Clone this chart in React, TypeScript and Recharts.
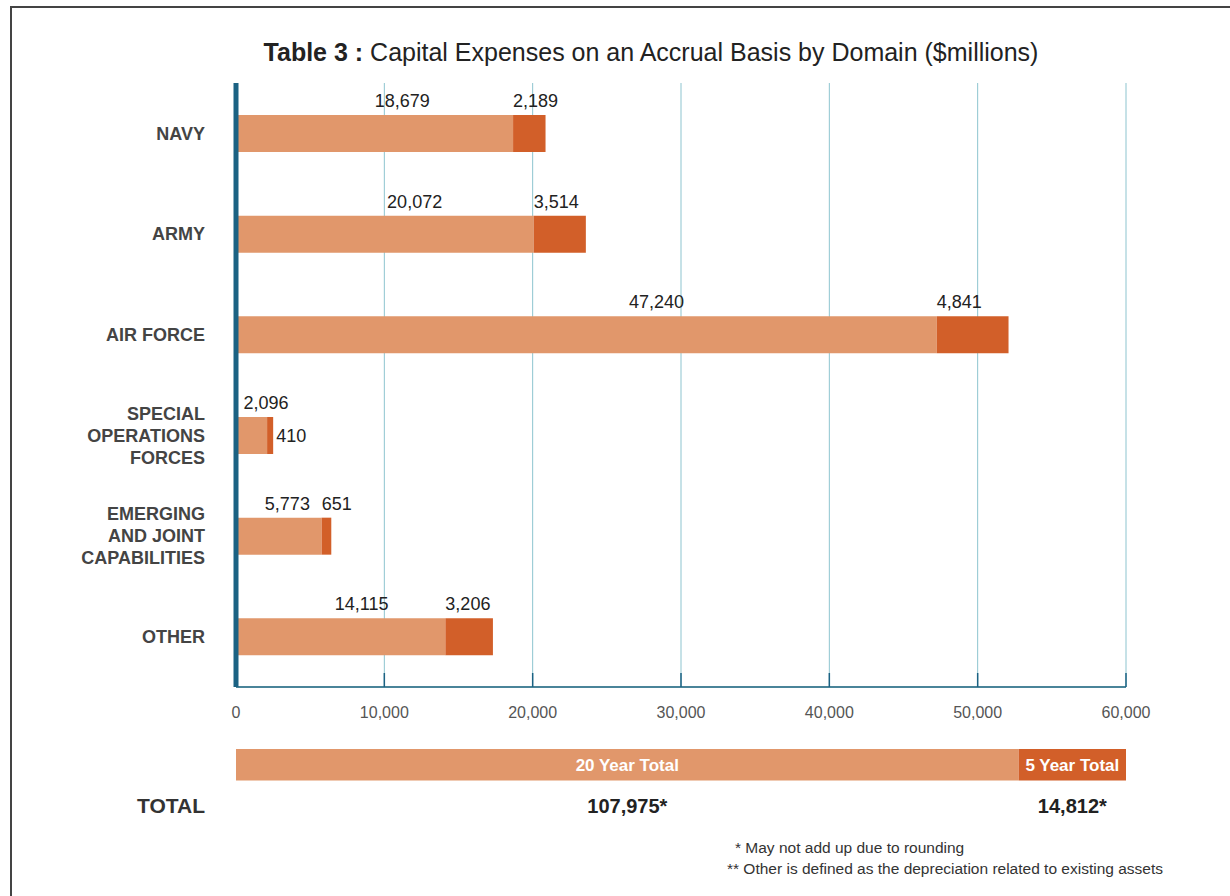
import { BarChart, Bar, XAxis, YAxis, CartesianGrid, LabelList } from "recharts";

const domains = ["NAVY", "ARMY", "AIR FORCE", "SPECIAL\nOPERATIONS\nFORCES", "EMERGING\nAND JOINT\nCAPABILITIES", "OTHER"];
const twentyYear = [18679, 20072, 47240, 2096, 5773, 14115];
const fiveYear = [2189, 3514, 4841, 410, 651, 3206];
const xTicks = [0, 10000, 20000, 30000, 40000, 50000, 60000];
const totalTwenty = 107975;
const totalFive = 14812;

const LIGHT = "#E1976B";
const DARK = "#D25F29";
const TEAL = "#1B6283";
const FONT = "'Liberation Sans', Arial, Helvetica, sans-serif";
const NARROW = "'Liberation Sans Narrow', 'Liberation Sans', Arial, sans-serif";

const fmt = (v: number) => v.toLocaleString("en-US");

const chartData = domains.map((d, i) => ({ name: d, twenty: twentyYear[i], five: fiveYear[i] }));
const totalData = [{ name: "TOTAL", twenty: totalTwenty, five: totalFive }];

const DomainTick = (props: any) => {
  const { x, y, payload } = props;
  const lines = String(payload.value).split("\n");
  const start = -((lines.length - 1) * 22) / 2;
  return (
    <text x={x - 23} y={y} textAnchor="end" fontFamily={FONT} fontSize={18} fontWeight="bold" fill="#444">
      {lines.map((l, i) => (
        <tspan key={i} x={x - 23} y={y + start + i * 22} dy="0.36em">
          {l}
        </tspan>
      ))}
    </text>
  );
};

const ValueTick = (props: any) => {
  const { x, y, payload } = props;
  return (
    <g>
      {payload.value > 0 && <line x1={x} x2={x} y1={y - 14} y2={y} stroke={TEAL} strokeWidth={1.5} />}
      <text x={x} y={y + 25} textAnchor="middle" dy="0.36em" fontFamily={FONT} fontSize={16} fill="#555">
        {fmt(payload.value)}
      </text>
    </g>
  );
};

const TwentyLabel = (props: any) => {
  const { x, y, width, value } = props;
  const cx = Math.max(x + width * 0.6, x + 30);
  return (
    <text x={cx} y={y - 8} textAnchor="middle" fontFamily={FONT} fontSize={18} fill="#222">
      {fmt(value)}
    </text>
  );
};

const FiveLabel = (props: any) => {
  const { x, y, width, height, value, index } = props;
  if (twentyYear[index] < 3000) {
    return (
      <text x={x + width + 3} y={y + height / 2} dy="0.36em" textAnchor="start" fontFamily={FONT} fontSize={18} fill="#222">
        {fmt(value)}
      </text>
    );
  }
  return (
    <text x={x} y={y - 8} textAnchor="start" fontFamily={FONT} fontSize={18} fill="#222">
      {fmt(value)}
    </text>
  );
};

const TotalInside = (text: string) => (props: any) => {
  const { x, y, width, height } = props;
  return (
    <text x={x + width / 2} y={y + height / 2} dy="0.36em" textAnchor="middle" fontFamily={NARROW} fontSize={17} fontWeight="bold" fill="#fff">
      {text}
    </text>
  );
};

const TotalBelow = (props: any) => {
  const { x, y, width, height, value } = props;
  return (
    <text x={x + width / 2} y={y + height + 25} dy="0.36em" textAnchor="middle" fontFamily={NARROW} fontSize={20} fontWeight="bold" fill="#222">
      {fmt(value) + "*"}
    </text>
  );
};

export default function App() {
  return (
    <div style={{ position: "absolute", left: 0, top: 0, width: 1230, height: 896, overflow: "hidden", background: "#fff", fontFamily: FONT }}>
      <div style={{ position: "absolute", left: 10, top: 6, width: 1240, height: 900, borderTop: "2px solid #444", borderLeft: "2px solid #444" }} />
      <div style={{ position: "absolute", left: 0, width: 1302, top: 38, textAlign: "center", fontSize: 25, color: "#222", whiteSpace: "nowrap" }}>
        <b>Table 3 :</b> Capital Expenses on an Accrual Basis by Domain ($millions)
      </div>

      <div style={{ position: "absolute", left: 0, top: 0 }}>
        <BarChart
          width={1230}
          height={740}
          data={chartData}
          layout="vertical"
          margin={{ top: 83, right: 104, bottom: 13, left: 0 }}
          barCategoryGap={0}
        >
          <CartesianGrid horizontal={false} vertical={true} stroke="#8DC4CF" strokeWidth={1} />
          <XAxis
            type="number"
            domain={[0, 60000]}
            ticks={xTicks}
            height={40}
            axisLine={{ stroke: "#4A8499", strokeWidth: 2 }}
            tickLine={false}
            tickSize={0}
            tickMargin={0}
            tick={<ValueTick />}
            interval={0}
          />
          <YAxis
            type="category"
            dataKey="name"
            width={236}
            axisLine={{ stroke: TEAL, strokeWidth: 5 }}
            tickLine={false}
            tick={<DomainTick />}
            interval={0}
          />
          <Bar dataKey="twenty" stackId="a" fill={LIGHT} barSize={37} isAnimationActive={false}>
            <LabelList dataKey="twenty" content={<TwentyLabel />} />
          </Bar>
          <Bar dataKey="five" stackId="a" fill={DARK} barSize={37} isAnimationActive={false}>
            <LabelList dataKey="five" content={<FiveLabel />} />
          </Bar>
        </BarChart>
      </div>

      <div style={{ position: "absolute", left: 0, top: 740 }}>
        <BarChart
          width={1230}
          height={100}
          data={totalData}
          layout="vertical"
          margin={{ top: 7, right: 104, bottom: 58, left: 236 }}
          barCategoryGap={0}
        >
          <XAxis type="number" domain={[0, totalTwenty + totalFive]} hide />
          <YAxis type="category" dataKey="name" hide />
          <Bar dataKey="twenty" stackId="t" fill={LIGHT} barSize={35} isAnimationActive={false}>
            <LabelList dataKey="twenty" content={TotalInside("20 Year Total")} />
            <LabelList dataKey="twenty" content={<TotalBelow />} />
          </Bar>
          <Bar dataKey="five" stackId="t" fill={DARK} barSize={35} isAnimationActive={false}>
            <LabelList dataKey="five" content={TotalInside("5 Year Total")} />
            <LabelList dataKey="five" content={<TotalBelow />} />
          </Bar>
        </BarChart>
      </div>

      <div style={{ position: "absolute", right: 1230 - 205, top: 794, fontFamily: NARROW, fontSize: 21, fontWeight: "bold", color: "#333" }}>
        TOTAL
      </div>
      <div style={{ position: "absolute", left: 735, top: 839, fontFamily: NARROW, fontSize: 15.5, color: "#333", whiteSpace: "nowrap" }}>
        * May not add up due to rounding
      </div>
      <div style={{ position: "absolute", left: 727, top: 860, fontFamily: NARROW, fontSize: 15.5, color: "#333", whiteSpace: "nowrap" }}>
        ** Other is defined as the depreciation related to existing assets
      </div>
    </div>
  );
}
